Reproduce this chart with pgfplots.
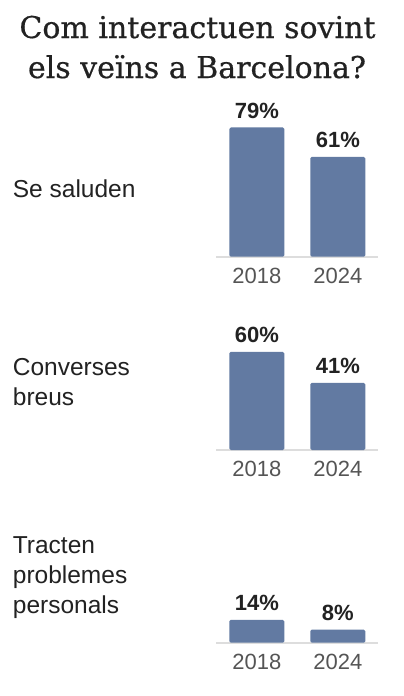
\documentclass[border=0pt]{standalone}
\usepackage{pgfplots}
\pgfplotsset{compat=1.18}
\usepackage{fontspec}
\newfontfamily\labfont{Liberation Sans}
\newfontfamily\titfont[FakeBold=0.6]{DejaVu Serif}
\definecolor{barc}{RGB}{98,122,162}
\definecolor{basec}{RGB}{221,221,221}
\definecolor{tickc}{RGB}{85,85,85}
\definecolor{txtc}{RGB}{34,34,34}
\pgfplotsset{
  panel/.style={
    scale only axis, width=162bp, height=163.6bp,
    xmin=-0.5, xmax=1.5, ymin=0, ymax=100,
    axis x line*=bottom, axis y line=none,
    x axis line style={draw=basec, line width=1.8bp, -},
    major tick length=0pt, xtick={0,1}, xticklabels={2018,2024},
    xticklabel style={anchor=base, yshift=-26.3bp, font=\labfont\fontsize{22bp}{26bp}\selectfont, text=tickc},
    ytick=\empty,
    /pgf/number format/assume math mode=true,
    ybar, bar width=55bp, clip=false,
    nodes near coords={\pgfmathprintnumber{\pgfplotspointmeta}\%},
    every node near coord/.append style={anchor=base, yshift=9bp, inner sep=0pt, font=\labfont\bfseries\fontsize{22bp}{26bp}\selectfont, text=txtc},
  }
}
\begin{document}
\begin{tikzpicture}
\path[use as bounding box, fill=white] (0,0) rectangle (404bp,-696bp);
% title
\node[anchor=base, inner sep=0pt, text=txtc, font=\titfont\fontsize{30bp}{40bp}\selectfont] at (197.5bp,-38bp) {Com interactuen sovint};
\node[anchor=base, inner sep=0pt, text=txtc, font=\titfont\fontsize{30bp}{40bp}\selectfont] at (197bp,-78bp) {els veïns a Barcelona?};
% category labels
\begin{scope}[every node/.style={anchor=base west, inner sep=0pt, text=txtc, font=\labfont\fontsize{24.5bp}{30bp}\selectfont}]
\node at (12.7bp,-197.3bp) {Se saluden};
\node at (12.7bp,-375.7bp) {Converses};
\node at (12.7bp,-405bp) {breus};
\node at (12.7bp,-553bp) {Tracten};
\node at (12.7bp,-583bp) {problemes};
\node at (12.7bp,-613bp) {personals};
\end{scope}
% panel 1
\begin{axis}[panel, at={(216.3bp,-256.7bp)}, anchor=south west]
\addplot[fill=barc, draw=none, rounded corners=1.5bp] coordinates {(0,79) (1,61)};
\end{axis}
% panel 2
\begin{axis}[panel, at={(216.3bp,-450bp)}, anchor=south west]
\addplot[fill=barc, draw=none, rounded corners=1.5bp] coordinates {(0,60) (1,41)};
\end{axis}
% panel 3
\begin{axis}[panel, at={(216.3bp,-642.7bp)}, anchor=south west]
\addplot[fill=barc, draw=none, rounded corners=1.5bp] coordinates {(0,14) (1,8)};
\end{axis}
\end{tikzpicture}
\end{document}
